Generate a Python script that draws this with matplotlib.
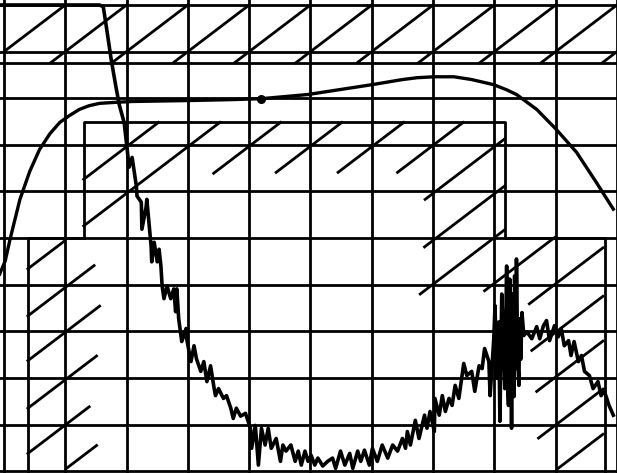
import matplotlib
matplotlib.use("Agg")
import matplotlib.pyplot as plt

# x in screen divisions (0..10), y in dB (0 at top, 10 dB per division)

# smooth response curve
resp_x = [-0.07, 0.02, 0.10, 0.26, 0.42, 0.58, 0.75, 0.91, 1.07, 1.23, 1.39,
          1.56, 1.80, 2.09, 3.01, 3.71, 4.20, 4.96, 6.00, 6.50, 6.74, 7.02,
          7.34, 7.63, 7.99, 8.20, 8.36, 8.69, 9.01, 9.34, 9.66, 9.94]
resp_y = [-57.7, -54.9, -50.2, -41.7, -35.7, -31.0, -27.6, -25.2, -23.7, -22.4,
          -21.6, -21.1, -20.9, -20.7, -20.5, -20.3, -20.1, -19.2, -17.1, -16.0,
          -15.6, -15.4, -15.4, -16.0, -17.1, -18.2, -19.2, -22.4, -26.7, -31.6,
          -38.0, -43.8]
marker_x = [4.20]
marker_y = [-20.1]

# noisy spectrum trace
spec_x = [-0.07, 1.56, 1.62, 1.67, 1.75, 1.82, 1.88, 1.96, 2.01, 2.04, 2.09,
          2.16, 2.17, 2.24, 2.25, 2.32, 2.33, 2.37, 2.40, 2.41, 2.45, 2.50,
          2.53, 2.56, 2.58, 2.61, 2.66, 2.72, 2.77, 2.80, 2.82, 2.85, 2.90,
          2.97, 2.98, 3.05, 3.10, 3.14, 3.21, 3.26, 3.31, 3.37, 3.42, 3.45,
          3.50, 3.58, 3.63, 3.70, 3.74, 3.79, 3.86, 3.94, 4.02, 4.04, 4.10,
          4.15, 4.20, 4.26, 4.31, 4.36, 4.44, 4.51, 4.55, 4.60, 4.68, 4.75,
          4.80, 4.85, 4.91, 4.96, 5.01, 5.07, 5.12, 5.20, 5.28, 5.36, 5.41,
          5.49, 5.56, 5.64, 5.69, 5.77, 5.82, 5.88, 5.96, 6.01, 6.09, 6.17,
          6.26, 6.34, 6.42, 6.50, 6.55, 6.58, 6.63, 6.71, 6.77, 6.86, 6.90,
          6.95, 7.02, 7.03, 7.10, 7.15, 7.20, 7.26, 7.31, 7.36, 7.42, 7.50,
          7.55, 7.63, 7.68, 7.75, 7.80, 7.84, 7.91, 7.93, 7.99, 8.01, 8.04,
          8.07, 8.09, 8.12, 8.15, 8.17, 8.20, 8.21, 8.23, 8.25, 8.27, 8.28,
          8.30, 8.31, 8.32, 8.33, 8.35, 8.36, 8.38, 8.40, 8.41, 8.43, 8.45,
          8.48, 8.53, 8.61, 8.69, 8.74, 8.80, 8.85, 8.90, 8.98, 9.04, 9.09,
          9.14, 9.21, 9.25, 9.30, 9.37, 9.42, 9.47, 9.55, 9.61, 9.69, 9.74,
          9.79, 9.87, 9.94]
spec_y = [0.0, 0.0, -0.4, -4.7, -11.8, -17.1, -21.4, -25.2, -31.0, -34.8, -32.7,
          -38.9, -41.0, -42.3, -48.1, -43.2, -41.7, -47.4, -51.7, -55.1, -50.9,
          -55.1, -52.4, -56.0, -60.3, -63.0, -60.3, -63.0, -60.9, -65.8, -60.9,
          -67.3, -72.2, -69.4, -71.6, -76.5, -73.1, -75.9, -78.6, -76.5, -80.8,
          -77.4, -81.6, -83.8, -82.3, -84.4, -83.8, -86.5, -88.7, -86.5, -88.2,
          -87.6, -90.8, -95.1, -90.2, -98.7, -90.8, -94.4, -90.8, -95.1, -93.0,
          -97.9, -94.4, -95.7, -94.4, -97.9, -95.7, -98.7, -95.7, -97.9, -96.6,
          -98.7, -97.2, -98.9, -97.9, -97.2, -99.4, -95.7, -98.7, -96.2, -99.4,
          -95.7, -97.9, -95.5, -98.7, -95.1, -97.9, -94.4, -97.2, -94.4, -95.7,
          -93.0, -95.1, -91.5, -94.4, -89.1, -93.0, -88.0, -90.8, -87.2, -91.5,
          -84.4, -88.0, -83.8, -87.2, -84.4, -85.9, -81.6, -84.4, -76.9, -79.5,
          -78.6, -82.9, -77.4, -78.0, -73.7, -76.5, -83.8, -71.6, -64.5, -80.0,
          -68.0, -89.3, -62.0, -73.1, -82.3, -56.0, -80.0, -85.9, -58.8, -78.0,
          -90.8, -62.0, -71.6, -84.0, -58.1, -78.0, -54.5, -76.0, -81.6, -67.3,
          -76.0, -66.0, -70.9, -70.1, -71.6, -69.0, -71.6, -68.8, -67.7, -72.0,
          -68.8, -71.2, -69.4, -73.1, -72.0, -75.2, -72.2, -76.5, -75.2, -78.6,
          -79.5, -82.3, -80.8, -83.8, -82.7, -85.9, -88.0]

# limit mask outlines
upper_limit = -12.4
box_x = [1.30, 1.30, 8.17, 8.17, 9.81, 9.81]
box_y = [-50.0, -25.2, -25.2, -50.0, -50.0, -100.5]
low_left_x = [1.30, 0.39, 0.39]
low_left_y = [-50.0, -50.0, -100.5]

# hatch strokes: start point and end x, slope is one division per 10 dB
top_hx0 = [0.00, 0.76, 1.76, 2.76, 3.76, 4.76, 5.76, 6.76, 7.76, 8.76, 9.76]
top_hy0 = [-10.0, -12.4, -12.4, -12.4, -12.4, -12.4, -12.4, -12.4, -12.4, -12.4, -12.4]
top_hx1 = [1.00, 2.00, 3.00, 4.00, 5.00, 6.00, 7.00, 8.00, 9.00, 10.0, 11.0]

hx0 = [1.30, 1.30, 3.42, 4.44, 5.45, 6.42, 6.87, 6.86, 6.79, 7.84, 8.57,
       8.61, 8.69, 8.72, 9.04, 0.39, 0.39, 0.39, 0.39, 0.39, 1.02]
hy0 = [-37.4, -47.4, -36.1, -35.9, -35.9, -35.9, -41.7, -51.9, -62.0, -61.3,
       -64.1, -74.1, -82.9, -92.9, -99.4, -56.6, -66.7, -76.3, -86.5, -96.2, -99.4]
hx1 = [2.52, 3.52, 4.51, 5.51, 6.52, 7.49, 8.17, 8.17, 8.17, 8.98, 9.77,
       9.77, 9.77, 9.77, 9.77, 0.99, 1.47, 1.56, 1.51, 1.39, 1.51]

fig = plt.figure(figsize=(6.17, 4.73), dpi=100)
ax = fig.add_axes([0, 0, 1, 1])
ax.set_xlim(-0.065, 9.935)
ax.set_ylim(-100.4, 1.07)

# graticule
ax.set_xticks(range(0, 11))
ax.set_yticks(range(-100, 1, 10))
ax.grid(True, color="black", linewidth=2.0)
ax.tick_params(length=0, labelbottom=False, labelleft=False)
for s in ax.spines.values():
    s.set_visible(False)

# mask
ax.axhline(upper_limit, color="black", linewidth=2.0)
ax.plot(box_x, box_y, color="black", linewidth=2.0)
ax.plot(low_left_x, low_left_y, color="black", linewidth=2.0)
for x0, y0, x1 in zip(top_hx0, top_hy0, top_hx1):
    ax.plot([x0, x1], [y0, y0 + 10 * (x1 - x0)], color="black", linewidth=2.0)
for x0, y0, x1 in zip(hx0, hy0, hx1):
    ax.plot([x0, x1], [y0, y0 + 10 * (x1 - x0)], color="black", linewidth=2.0)

# traces
ax.plot(resp_x, resp_y, color="black", linewidth=2.4)
ax.plot(marker_x, marker_y, "o", color="black", markersize=5.5)
ax.plot(spec_x, spec_y, color="black", linewidth=2.6)

fig.savefig("out.png", dpi=100, facecolor="white")
